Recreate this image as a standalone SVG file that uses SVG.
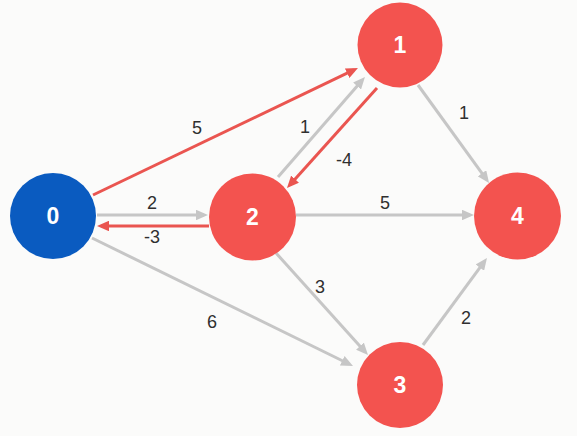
<svg xmlns="http://www.w3.org/2000/svg" width="577" height="436" viewBox="0 0 577 436">
<style>
.e{fill:none;stroke-width:3}
.g{stroke:#c6c6c6}
.r{stroke:#ea5550}
.lbl{font-family:"Liberation Sans",Arial,sans-serif;font-size:18px;fill:#2f2f2f;text-anchor:middle;dominant-baseline:central}
.nt{font-family:"Liberation Sans",Arial,sans-serif;font-size:23px;font-weight:bold;fill:#fff;text-anchor:middle;dominant-baseline:central}
.red{fill:#f3534f}
.blue{fill:#0a5bc0}
</style>
<defs>
<marker id="ag" viewBox="0 0 4 3.5" refX="2.5" refY="1.75" markerWidth="4" markerHeight="3.5" orient="auto" markerUnits="strokeWidth"><path d="M0,0 L4,1.75 L0,3.5 z" fill="#c6c6c6"/></marker>
<marker id="ar" viewBox="0 0 4 3.5" refX="2.5" refY="1.75" markerWidth="4" markerHeight="3.5" orient="auto" markerUnits="strokeWidth"><path d="M0,0 L4,1.75 L0,3.5 z" fill="#ea5550"/></marker>
</defs>
<rect width="577" height="436" fill="#fbfbfa"/>
<g id="connectors">
<line class="e r" x1="93" y1="195" x2="353.9" y2="69.9" marker-end="url(#ar)"/>
<line class="e g" x1="278" y1="177" x2="362" y2="80.4" marker-end="url(#ag)"/>
<line class="e r" x1="377" y1="88" x2="290" y2="184.7" marker-end="url(#ar)"/>
<line class="e g" x1="97" y1="215" x2="203.5" y2="215" marker-end="url(#ag)"/>
<line class="e r" x1="209" y1="226" x2="101.5" y2="226" marker-end="url(#ar)"/>
<line class="e g" x1="296" y1="215" x2="469.5" y2="215" marker-end="url(#ag)"/>
<line class="e g" x1="418" y1="85" x2="486.4" y2="179.4" marker-end="url(#ag)"/>
<line class="e g" x1="276" y1="253" x2="365" y2="351.7" marker-end="url(#ag)"/>
<line class="e g" x1="92" y1="238" x2="349" y2="364" marker-end="url(#ag)"/>
<line class="e g" x1="423" y1="345" x2="484.3" y2="261.6" marker-end="url(#ag)"/>
<text class="lbl" x="197" y="128">5</text>
<text class="lbl" x="305" y="127">1</text>
<text class="lbl" x="344" y="160">-4</text>
<text class="lbl" x="152" y="203">2</text>
<text class="lbl" x="152" y="237">-3</text>
<text class="lbl" x="385" y="203">5</text>
<text class="lbl" x="464" y="113">1</text>
<text class="lbl" x="320" y="287">3</text>
<text class="lbl" x="212" y="322">6</text>
<text class="lbl" x="466" y="318">2</text>
</g>
<g id="node0"><circle class="blue" cx="53" cy="216" r="43"/><text class="nt" x="53" y="216">0</text></g>
<g id="node1"><circle class="red" cx="400" cy="45" r="42.5"/><text class="nt" x="400" y="45">1</text></g>
<g id="node2"><circle class="red" cx="252.5" cy="217" r="43.5"/><text class="nt" x="252.5" y="217">2</text></g>
<g id="node3"><circle class="red" cx="400" cy="385" r="43"/><text class="nt" x="400" y="385">3</text></g>
<g id="node4"><circle class="red" cx="517.5" cy="216" r="43.5"/><text class="nt" x="517.5" y="216">4</text></g>
</svg>
